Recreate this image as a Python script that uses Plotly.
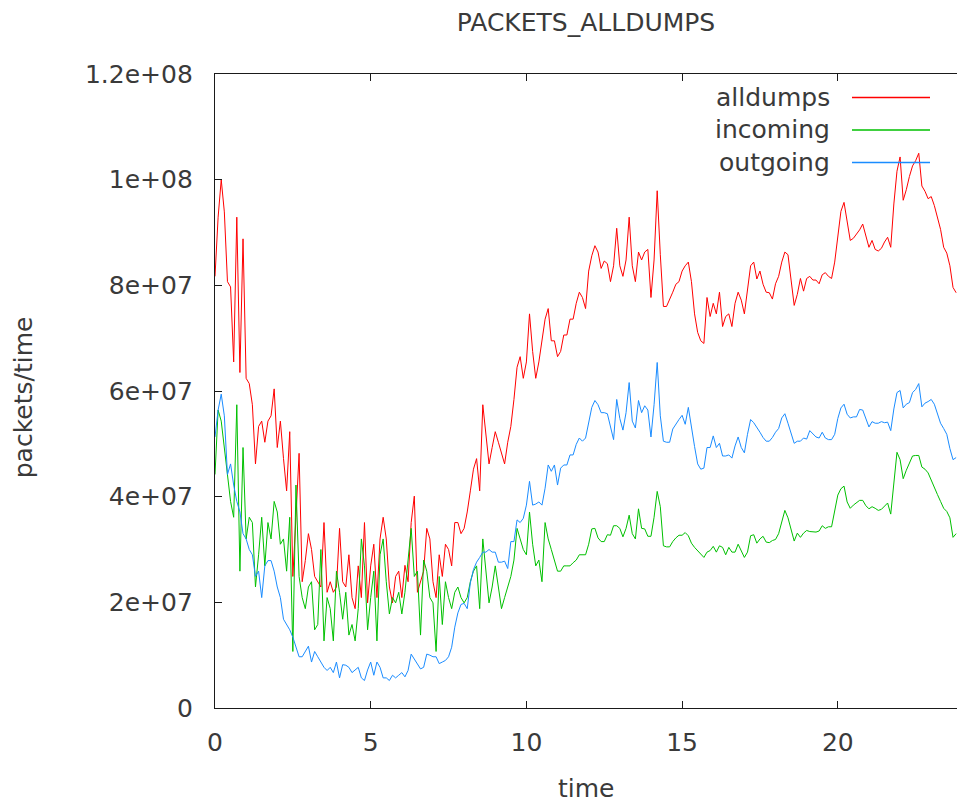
import plotly.graph_objects as go

# Sample times (hours), one sample every 6 minutes
hours = [round(i * 0.1, 1) for i in range(239)]

# Packet rates, in millions of packets per time unit
alldumps = [
    81.7, 92.9, 100.0, 93.9, 80.7, 79.7, 65.5, 92.9, 63.5, 88.8,
    62.4, 61.4, 57.4, 46.2, 53.3, 54.3, 50.3, 54.3, 55.3, 60.4,
    49.3, 54.3, 47.2, 41.1, 52.3, 24.9, 36.1, 48.2, 23.9, 27.9,
    33.0, 30.0, 24.9, 23.9, 22.9, 35.1, 21.9, 23.9, 21.9, 22.9,
    34.0, 23.9, 22.9, 29.0, 20.9, 18.8, 26.9, 20.9, 35.1, 19.9,
    26.9, 31.0, 20.9, 32.0, 36.1, 32.0, 22.9, 19.9, 24.9, 25.9,
    20.9, 27.0, 23.9, 35.1, 40.1, 21.9, 23.9, 25.9, 34.0, 32.0,
    23.9, 20.9, 29.0, 24.9, 31.0, 30.0, 26.9, 35.1, 35.1, 33.0,
    34.0, 37.1, 41.1, 45.2, 47.2, 41.1, 57.4, 51.3, 46.2, 49.3,
    52.3, 50.3, 48.2, 46.2, 50.3, 53.3, 58.4, 64.5, 66.5, 62.4,
    65.5, 74.6, 67.5, 62.4, 65.5, 69.5, 73.6, 75.6, 69.5, 69.5,
    66.5, 67.5, 70.6, 70.6, 73.6, 73.6, 76.6, 78.7, 77.7, 75.6,
    82.7, 85.6, 87.5, 86.3, 83.2, 84.6, 84.1, 80.7, 83.7, 90.8,
    83.7, 81.7, 84.8, 92.9, 83.7, 80.7, 86.3, 84.8, 86.3, 86.8,
    77.7, 84.8, 97.9, 85.8, 76.0, 76.0, 77.2, 78.7, 80.2, 80.7,
    82.7, 83.7, 84.4, 80.7, 74.6, 71.1, 69.5, 69.0, 77.7, 74.1,
    76.6, 74.6, 78.7, 72.2, 74.1, 74.6, 72.2, 76.6, 78.7, 77.2,
    74.6, 78.7, 83.7, 84.4, 81.2, 82.7, 80.2, 78.7, 78.6, 77.4,
    80.3, 81.7, 84.4, 86.3, 85.8, 81.0, 76.2, 78.3, 81.3, 78.9,
    81.3, 81.7, 81.0, 81.0, 80.3, 82.0, 82.4, 81.7, 81.3, 84.4,
    89.2, 94.0, 95.7, 92.0, 88.5, 88.9, 89.6, 90.5, 91.6, 89.2,
    87.2, 88.5, 86.8, 86.5, 87.0, 88.2, 89.1, 87.2, 95.4, 101.6,
    104.3, 96.1, 98.1, 100.6, 102.6, 103.6, 105.0, 98.8, 97.8, 96.4,
    96.8, 95.1, 92.7, 90.6, 87.2, 86.1, 83.7, 79.6, 78.6,
]

incoming = [
    44.2, 56.4, 54.3, 49.3, 43.2, 39.1, 36.1, 57.4, 25.9, 49.3,
    32.0, 36.1, 35.1, 22.9, 29.0, 36.1, 26.9, 35.1, 32.0, 39.1,
    37.1, 31.0, 32.0, 25.9, 36.1, 10.7, 42.2, 24.9, 20.9, 18.8,
    22.9, 23.9, 14.8, 15.8, 30.0, 12.7, 20.9, 18.8, 12.7, 25.9,
    21.9, 16.8, 21.9, 13.8, 15.8, 12.7, 18.8, 32.0, 26.9, 14.8,
    20.9, 25.9, 12.7, 29.0, 32.0, 23.9, 17.8, 20.9, 19.9, 21.9,
    17.8, 21.9, 28.0, 34.0, 24.9, 25.9, 13.8, 28.0, 25.9, 20.9,
    19.9, 10.7, 24.9, 15.8, 23.9, 20.9, 18.8, 21.9, 22.9, 20.9,
    19.9, 20.9, 23.9, 25.9, 26.9, 18.8, 32.0, 25.9, 19.9, 22.9,
    26.9, 22.9, 18.8, 20.9, 22.9, 24.9, 28.0, 34.0, 32.0, 30.0,
    29.0, 37.1, 31.0, 26.9, 28.0, 23.9, 35.1, 32.0, 30.0, 28.0,
    25.9, 25.9, 26.9, 26.9, 26.9, 27.5, 28.0, 29.0, 29.0, 29.0,
    31.0, 33.9, 34.0, 32.2, 31.5, 31.5, 32.8, 32.7, 34.5, 34.5,
    34.0, 32.4, 34.0, 36.5, 33.0, 32.0, 37.7, 34.0, 33.9, 32.5,
    32.5, 36.1, 41.0, 38.1, 30.7, 30.5, 30.5, 31.5, 32.2, 32.7,
    32.7, 33.2, 32.6, 31.2, 30.4, 29.8, 29.0, 28.5, 29.5, 29.8,
    30.6, 29.5, 30.7, 30.4, 29.0, 30.4, 29.5, 29.5, 31.0, 29.8,
    28.5, 29.5, 32.6, 32.8, 31.2, 32.0, 32.5, 31.4, 31.3, 31.7,
    31.9, 33.0, 35.0, 37.4, 36.0, 33.6, 31.6, 33.1, 32.3, 33.1,
    33.6, 33.4, 33.3, 33.3, 33.5, 34.5, 34.0, 34.3, 34.3, 37.1,
    40.3, 41.5, 42.0, 39.0, 37.8, 38.4, 38.8, 39.3, 39.3, 38.3,
    37.7, 38.1, 37.8, 37.4, 37.6, 38.2, 38.8, 36.7, 42.2, 48.4,
    47.0, 43.4, 45.0, 46.5, 47.7, 47.8, 47.8, 45.6, 45.2, 44.5,
    43.1, 41.5, 40.4, 39.1, 37.8, 37.2, 36.0, 32.3, 33.0,
]

outgoing = [
    51.3, 56.4, 59.4, 55.3, 44.2, 46.2, 42.2, 39.1, 37.1, 33.0,
    32.0, 30.0, 29.0, 24.9, 25.9, 20.9, 26.9, 27.9, 27.9, 25.9,
    22.9, 20.9, 16.8, 15.8, 14.8, 13.4, 11.7, 9.7, 9.7, 10.7,
    11.7, 8.7, 10.7, 9.7, 8.7, 7.7, 7.1, 7.7, 6.7, 8.7,
    5.7, 8.2, 8.1, 7.7, 6.7, 7.2, 7.7, 5.7, 5.2, 7.2,
    8.7, 6.2, 8.7, 7.7, 5.7, 5.7, 5.2, 6.2, 5.7, 6.2,
    6.7, 5.9, 7.1, 10.2, 9.2, 8.2, 7.4, 7.7, 10.2, 10.0,
    9.7, 9.7, 8.4, 8.7, 9.0, 9.7, 11.5, 15.3, 18.0, 19.6,
    19.8, 18.8, 23.7, 26.2, 27.6, 28.5, 29.5, 29.5, 30.0, 29.5,
    29.5, 27.6, 27.6, 27.8, 26.4, 31.5, 31.5, 35.6, 35.1, 35.9,
    38.4, 42.9, 38.4, 38.6, 39.0, 38.4, 41.6, 46.0, 44.8, 46.0,
    42.2, 45.4, 46.0, 46.0, 47.9, 47.9, 49.9, 51.1, 50.5, 51.1,
    54.3, 56.9, 58.2, 57.4, 55.9, 55.9, 55.7, 53.3, 50.8, 58.4,
    54.8, 52.6, 55.9, 61.6, 54.3, 53.0, 58.2, 55.9, 57.2, 56.4,
    51.3, 57.4, 65.4, 55.3, 50.5, 50.3, 50.3, 52.8, 53.8, 54.6,
    55.4, 53.7, 56.9, 53.0, 49.5, 46.2, 45.2, 45.4, 49.3, 49.3,
    51.5, 49.3, 50.1, 47.7, 47.7, 47.9, 47.3, 49.6, 51.3, 49.3,
    48.3, 51.8, 54.6, 54.0, 53.2, 52.2, 51.2, 50.5, 50.5, 51.2,
    52.2, 52.9, 54.9, 55.7, 53.9, 51.8, 50.1, 50.5, 50.5, 51.1,
    50.9, 52.5, 51.8, 51.3, 51.1, 52.2, 51.1, 50.8, 50.8, 51.8,
    54.8, 56.8, 57.5, 55.6, 54.9, 55.1, 55.1, 56.5, 56.4, 54.6,
    53.2, 54.2, 53.9, 53.9, 54.2, 54.0, 54.1, 52.5, 56.6, 59.7,
    60.1, 56.8, 57.5, 57.8, 59.7, 60.3, 61.4, 57.0, 57.7, 58.0,
    58.4, 57.5, 55.5, 53.9, 52.9, 51.8, 49.1, 47.0, 47.4,
]

series_names = ["alldumps", "incoming", "outgoing"]
series_values = [alldumps, incoming, outgoing]
series_colors = ["#ff0000", "#00c000", "#1a8cff"]

x_tick_values = [0, 5, 10, 15, 20]
y_tick_values = [0, 2e7, 4e7, 6e7, 8e7, 1e8, 1.2e8]
y_tick_labels = ["0", "2e+07", "4e+07", "6e+07", "8e+07", "1e+08", "1.2e+08"]

FONT = "DejaVu Sans"
TEXT = "#3a3a3a"
AXIS = "#1a1a1a"

W, H = 957, 807
L, T, B = 215, 73.5, 99
plot_w = W - L
plot_h = H - T - B


def px_to_paper_x(px):
    return (px - L) / plot_w


def px_to_paper_y(py):
    return (H - B - py) / plot_h


fig = go.Figure()
for name, vals, color in zip(series_names, series_values, series_colors):
    fig.add_trace(go.Scatter(
        x=hours,
        y=[v * 1e6 for v in vals],
        mode="lines",
        name=name,
        line=dict(color=color, width=1),
        showlegend=False,
    ))

# Key in the top-right corner: label on the left, sample line on the right
legend_rows = [97, 129.5, 162]
for name, color, row in zip(series_names, series_colors, legend_rows):
    fig.add_annotation(
        x=px_to_paper_x(832), y=px_to_paper_y(row),
        xref="paper", yref="paper",
        text=name, showarrow=False,
        xanchor="right", yanchor="middle",
        font=dict(family=FONT, size=25, color=TEXT),
    )
    fig.add_shape(
        type="line", xref="paper", yref="paper",
        x0=px_to_paper_x(852), x1=px_to_paper_x(930),
        y0=px_to_paper_y(row), y1=px_to_paper_y(row),
        line=dict(color=color, width=1.5),
        layer="above",
    )

# Axis titles
fig.add_annotation(
    x=px_to_paper_x(586), y=px_to_paper_y(789),
    xref="paper", yref="paper",
    text="time", showarrow=False,
    xanchor="center", yanchor="middle",
    font=dict(family=FONT, size=25, color=TEXT),
)
fig.add_annotation(
    x=px_to_paper_x(23), y=px_to_paper_y(397),
    xref="paper", yref="paper",
    text="packets/time", showarrow=False, textangle=-90,
    xanchor="center", yanchor="middle",
    font=dict(family=FONT, size=25, color=TEXT),
)

fig.update_layout(
    width=W, height=H,
    margin=dict(l=L, r=0, t=T, b=B),
    paper_bgcolor="white",
    plot_bgcolor="white",
    title=dict(
        text="PACKETS_ALLDUMPS",
        x=px_to_paper_x(586), xref="paper", xanchor="center",
        y=1 - 22 / H, yref="container", yanchor="middle",
        font=dict(family=FONT, size=25, color=TEXT),
    ),
    font=dict(family=FONT, size=25, color=TEXT),
)

fig.update_xaxes(
    range=[0, plot_w / 31.14],
    tickvals=x_tick_values,
    ticktext=[str(v) for v in x_tick_values],
    ticks="inside", ticklen=7, tickwidth=1.2, tickcolor=AXIS,
    showline=True, linecolor=AXIS, linewidth=1.3, mirror="ticks",
    showgrid=False, zeroline=False,
    ticklabelstandoff=12,
    tickfont=dict(family=FONT, size=25, color=TEXT),
)
fig.update_yaxes(
    range=[0, 1.2e8],
    tickvals=y_tick_values,
    ticktext=y_tick_labels,
    ticks="inside", ticklen=7, tickwidth=1.2, tickcolor=AXIS,
    showline=True, linecolor=AXIS, linewidth=1.3, mirror=False,
    showgrid=False, zeroline=False,
    ticklabelstandoff=16,
    tickfont=dict(family=FONT, size=25, color=TEXT),
)

fig.write_html("out.html")
